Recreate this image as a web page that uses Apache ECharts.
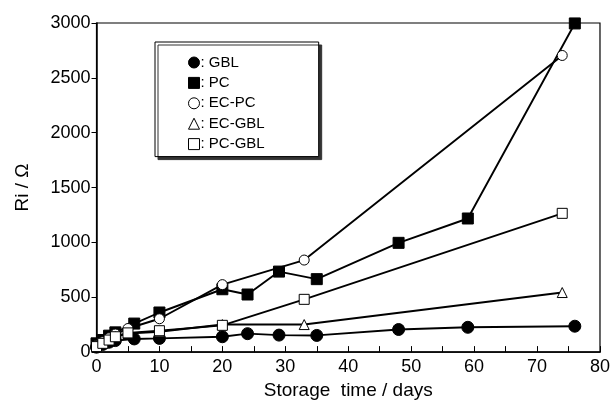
<!DOCTYPE html>
<html><head><meta charset="utf-8">
<script src="https://cdn.jsdelivr.net/npm/echarts@6/dist/echarts.min.js"></script>
<style>html,body{margin:0;padding:0;background:#fff}#c{width:613px;height:405px}</style>
</head><body><div id="c"></div>
<script>
const gblDays = [0,1,2,3,6,10,20,24,29,35,48,59,76];
const gblVals = [45,70,90,105,120,125,140,168,155,152,206,226,236];
const pcDays = [0,1,2,3,6,10,20,24,29,35,48,59,76];
const pcVals = [80,110,150,180,260,361,573,525,734,665,996,1218,2996];
const ecpcDays = [0,1,2,3,5,10,20,33,74];
const ecpcVals = [60,95,130,165,215,304,615,839,2704];
const ecgblDays = [0,1,2,3,5,10,20,33,74];
const ecgblVals = [50,80,110,140,170,185,251,251,543];
const pcgblDays = [0,1,2,3,5,10,20,33,74];
const pcgblVals = [50,80,110,140,175,195,244,481,1265];
const xTicks = [0,10,20,30,40,50,60,70,80];
const yTicks = [0,500,1000,1500,2000,2500,3000];

const zip = (a,b)=>a.map((d,i)=>[d,b[i]]);
const F = 'Liberation Sans, Arial, Helvetica, sans-serif';
const filled = {color:'#000', borderColor:'#000', borderWidth:1};
const open = {color:'#fff', borderColor:'#000', borderWidth:1};
function ser(name, d, v, sym, size, st){
  return {name, type:'line', data:zip(d,v), symbol:sym, symbolSize:size,
    lineStyle:{color:'#000', width:1.9}, itemStyle:st, z: st===open?3:2, animation:false};
}
const chart = echarts.init(document.getElementById('c'));
chart.setOption({
  animation:false,
  grid:{left:96.5, right:13, top:23, bottom:46, show:true, borderColor:'#000', borderWidth:1.2},
  xAxis:{type:'value', min:xTicks[0], max:xTicks[xTicks.length-1], interval:10,
    name:'Storage  time / days', nameLocation:'middle', nameGap:26,
    nameTextStyle:{fontFamily:F, fontSize:19, color:'#000'},
    axisLine:{lineStyle:{color:'#000', width:1.5}},
    axisTick:{inside:true, length:6, lineStyle:{color:'#000'}},
    minorTick:{show:true, splitNumber:2, length:6, lineStyle:{color:'#000'}},
    splitLine:{show:false},
    axisLabel:{fontFamily:F, fontSize:18, color:'#000', margin:6, formatter:v=>String(v)}},
  yAxis:{type:'value', min:yTicks[0], max:yTicks[yTicks.length-1], interval:500,
    name:'Ri / Ω', nameLocation:'middle', nameGap:64, nameRotate:90,
    nameTextStyle:{fontFamily:F, fontSize:19, color:'#000'},
    axisLine:{show:true, lineStyle:{color:'#000', width:1.5}},
    axisTick:{show:true, inside:false, length:5, lineStyle:{color:'#000'}},
    splitLine:{show:false},
    axisLabel:{fontFamily:F, fontSize:18, color:'#000', margin:6, formatter:v=>String(v)}},
  legend:{orient:'vertical', left:155, top:42, padding:[13,54,5,33],
    backgroundColor:'#fff', borderColor:'#000', borderWidth:1,
    shadowColor:'#333', shadowOffsetX:3, shadowOffsetY:3, shadowBlur:0,
    itemWidth:11, itemHeight:11, itemGap:5.4,
    formatter:n=>': '+n,
    textStyle:{fontFamily:F, fontSize:15, color:'#000', lineHeight:14, padding:[0,0,0,-4]},
    data:[
      {name:'GBL', icon:'circle', itemStyle:filled},
      {name:'PC', icon:'rect', itemStyle:filled},
      {name:'EC-PC', icon:'circle', itemStyle:open},
      {name:'EC-GBL', icon:'triangle', itemStyle:open},
      {name:'PC-GBL', icon:'rect', itemStyle:open}
    ]},
  series:[
    ser('GBL', gblDays, gblVals, 'circle', 12, filled),
    ser('PC', pcDays, pcVals, 'rect', 11, filled),
    ser('EC-PC', ecpcDays, ecpcVals, 'circle', 10, open),
    ser('EC-GBL', ecgblDays, ecgblVals, 'triangle', 10, open),
    ser('PC-GBL', pcgblDays, pcgblVals, 'rect', 10, open)
  ]
});
</script></body></html>
